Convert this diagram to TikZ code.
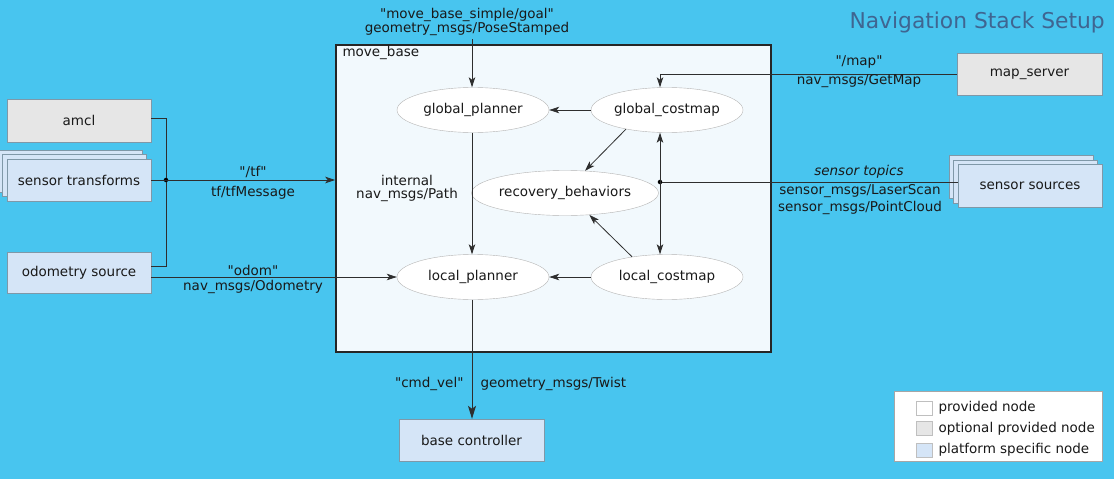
\documentclass[tikz,border=0pt]{standalone}
\usepackage{fontspec}
\setmainfont{DejaVu Sans}
\usetikzlibrary{arrows.meta,shapes.geometric}
\definecolor{navbg}{HTML}{48C5EF}
\definecolor{mbfill}{HTML}{F2F9FD}
\definecolor{optgray}{HTML}{E6E6E6}
\definecolor{platblue}{HTML}{D5E5F7}
\definecolor{boxline}{HTML}{7F98A8}
\definecolor{ellline}{HTML}{B4B4B4}
\definecolor{titleblue}{HTML}{3F6591}
\newcommand{\qt}[1]{\textquotedbl#1\textquotedbl}

\begin{document}
\begin{tikzpicture}[x=1pt,y=-1pt,
  every node/.style={font=\fontsize{13.5}{16}\selectfont,text=black!90},
  box/.style={draw=boxline,rectangle,minimum width=144pt,minimum height=42pt,inner sep=0pt},
  optbox/.style={box,fill=optgray},
  platbox/.style={box,fill=platblue},
  proc/.style={draw=ellline,fill=white,ellipse,minimum width=152pt,minimum height=45pt,inner sep=0pt},
  link/.style={draw=black!82,line width=0.8pt},
  >={Stealth[length=10pt,width=6.5pt,inset=2.5pt]},
  swatch/.style={draw=black!25,rectangle,minimum width=16pt,minimum height=14pt,inner sep=0pt}]
  \useasboundingbox (0,0) rectangle (1114,479);
  \fill [navbg] (0,0) rectangle (1114,479);
  \node (title) at (846,22) [anchor=west,font=\fontsize{21.8}{24}\selectfont,text=titleblue] {Navigation Stack Setup};

  % move_base and its parts
  \node (mb) at (553.5,198.5) [draw=black!85,line width=1.6pt,fill=mbfill,minimum width=435pt,minimum height=307pt] {};
  \node (mblbl) at (339,53) [anchor=west] {move\_base};
  \node (gp) at (473,110) [proc] {global\_planner};
  \node (gc) at (667,110) [proc] {global\_costmap};
  \node (rb) at (565,193) [proc,minimum width=154pt] {recovery\_behaviors};
  \node (lp) at (473,277) [proc] {local\_planner};
  \node (lc) at (667,277) [proc] {local\_costmap};

  % nodes outside
  \node (amcl) at (79,120.5) [optbox,minimum height=43pt] {amcl};
  \node (st3) at (70,171) [platbox] {};
  \node (st2) at (74.5,175.5) [platbox] {};
  \node (st1) at (79,180) [platbox] {sensor transforms};
  \node (odom) at (79,272.5) [platbox,minimum height=41pt] {odometry source};
  \node (mapsrv) at (1029.5,74.5) [optbox,minimum width=145pt] {map\_server};
  \node (ss3) at (1021,177) [platbox,minimum height=43pt] {};
  \node (ss2) at (1025.5,181.5) [platbox,minimum height=43pt] {};
  \node (ss1) at (1030,186) [platbox,minimum height=43pt] {sensor sources};
  \node (base) at (471.5,440) [platbox,minimum width=145pt] {base controller};

  % connectors
  \node (j) at (166,180) [fill=black,circle,inner sep=1.6pt] {};
  \node (sj) at (660,182) [fill=black,circle,inner sep=1.6pt] {};
  \coordinate (goal) at (472,39);
  \draw [link] ([yshift=2pt]amcl.east) -| (j);
  \draw [link] ([yshift=6pt]odom.east) -| (j);
  \draw [link,->] (st1.east) -- (st1.east -| mb.west);
  \draw [link,->] (odom.east |- lp.west) -- (lp.west);
  \draw [link,->] (goal) -- (goal |- gp.north);
  \draw [link,->] (gc.west) -- (gp.east);
  \draw [link,->] (mapsrv.west) -| ([xshift=-7pt]gc.north);
  \draw [link,<->] ([xshift=-7pt]gc.south) -- ([xshift=-7pt]lc.north);
  \draw [link] (sj -| ss1.west) -- (sj);
  \draw [link,->] (gc.205) -- (rb.48);
  \draw [link,->] (lc.150) -- (rb.-42);
  \draw [link,->] (lc.west) -- (lp.east);
  \draw [link,->] (gp.south -| goal) -- (lp.north -| goal);
  \draw [link,-{Stealth[length=13pt,width=8pt,inset=3pt]}] (lp.south -| goal) -- (base.north -| goal);

  % labels
  \draw (467,15) node (goallbl) {\qt{move\_base\_simple/goal}};
  \draw (467,29) node (goalmsg) {geometry\_msgs/PoseStamped};
  \draw (253,172) node (tflbl) {\qt{/tf}};
  \draw (253,193) node (tfmsg) {tf/tfMessage};
  \draw (253,270) node (odomlbl) {\qt{odom}};
  \draw (253,287) node (odommsg) {nav\_msgs/Odometry};
  \draw (859,62) node (maplbl) {\qt{/map}};
  \draw (859,81) node (mapmsg) {nav\_msgs/GetMap};
  \draw (859,172) node (senslbl) {\itshape sensor topics};
  \draw (860,191.5) node (lasermsg) {sensor\_msgs/LaserScan};
  \draw (860,207.5) node (cloudmsg) {sensor\_msgs/PointCloud};
  \draw (407,180) node (pathlbl) {internal};
  \draw (407,195) node (pathmsg) {nav\_msgs/Path};
  \draw (467,384) node (cmdlbl) [anchor=east] {\qt{cmd\_vel}};
  \draw (477,384) node (cmdmsg) [anchor=west] {geometry\_msgs/Twist};

  % legend
  \node (legend) at (998,426) [draw=black!35,fill=white,minimum width=208pt,minimum height=70pt] {};
  \node (sw1) at (924,408) [swatch,fill=white] {};
  \node (sw2) at (924,428.5) [swatch,fill=optgray] {};
  \node (sw3) at (924,450) [swatch,fill=platblue] {};
  \node (lg1) at (935,408) [anchor=west] {provided node};
  \node (lg2) at (935,428.5) [anchor=west] {optional provided node};
  \node (lg3) at (935,450) [anchor=west] {platform specific node};
\end{tikzpicture}
\end{document}
